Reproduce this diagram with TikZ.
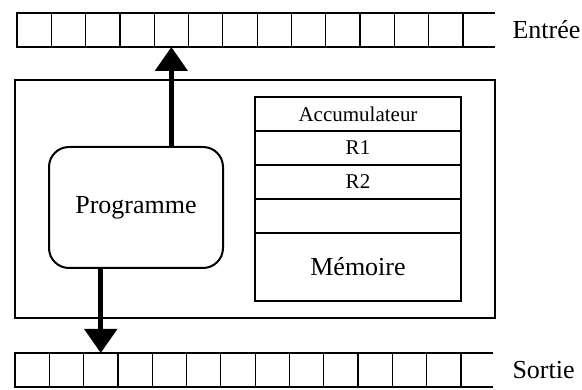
\documentclass[tikz,border=0pt]{standalone}
\usepackage{fontspec}
\setmainfont{Liberation Serif}
\usetikzlibrary{positioning,arrows.meta}

\tikzset{
  cell/.style={draw, line width=1.2pt, minimum width=34.3pt, minimum height=34pt,
    inner sep=0pt, outer sep=0pt, anchor=north west},
  reg/.style={draw, line width=1.4pt, minimum width=206pt, minimum height=34pt,
    inner sep=0pt, outer sep=0pt, font=\fontsize{21}{23}\selectfont},
  bigtext/.style={font=\fontsize{26}{28}\selectfont},
  flow/.style={line width=5pt, -{Triangle[length=24pt,width=32pt]}}
}

\begin{document}
\begin{tikzpicture}[x=1pt, y=-1pt]
\useasboundingbox (0,0) rectangle (582,390);

% Input tape (13 cells, open on the right)
\foreach \i in {1,...,13}
  \node[cell] (in\i) at ({17+(\i-1)*34.3},13) {};
\coordinate (inend) at (495,13);
\draw[line width=1.2pt] (in13.north east) -- (inend);
\draw[line width=1.2pt] (in13.south east) -- (in13.south east -| inend);
\node[bigtext, anchor=west] (inlabel) at (509,30) {Entrée};

% Output tape
\foreach \i in {1,...,13}
  \node[cell] (out\i) at ({15+(\i-1)*34.3},353) {};
\coordinate (outend) at (493,353);
\draw[line width=1.2pt] (out13.north east) -- (outend);
\draw[line width=1.2pt] (out13.south east) -- (out13.south east -| outend);
\node[bigtext, anchor=west] (outlabel) at (509,370) {Sortie};

% Machine frame
\node[draw, line width=2.5pt, minimum width=480pt, minimum height=238pt,
  inner sep=0pt] (machine) at (255,199) {};

% Program unit
\node[draw, rounded corners=20pt, line width=2pt, minimum width=174pt,
  minimum height=121pt, bigtext] (prog) at (136,207.5) {Programme};

% Registers and memory
\node[reg, anchor=north west] (acc) at (255,97) {Accumulateur};
\node[reg, below=0pt of acc] (rone) {R1};
\node[reg, below=0pt of rone] (rtwo) {R2};
\node[reg, below=0pt of rtwo] (rfree) {};
\node[reg, minimum height=68pt, below=0pt of rfree, bigtext] (mem) {Mémoire};
\draw[line width=2pt] (acc.north west) rectangle (mem.south east);

% Read and write arrows
\draw[flow] (prog.north -| in5) -- (in5.south);
\draw[flow] (prog.south -| out3) -- (out3.north);

\end{tikzpicture}
\end{document}
